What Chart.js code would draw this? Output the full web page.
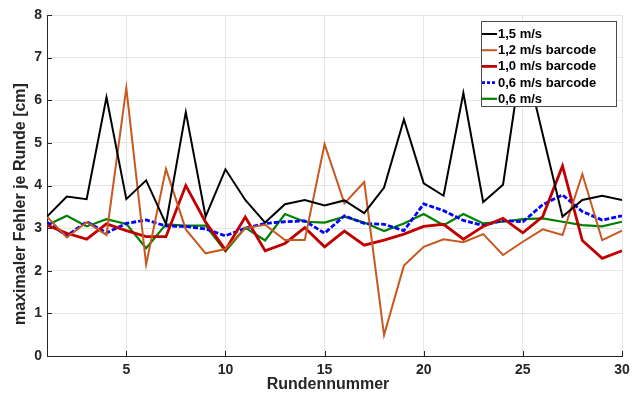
<!DOCTYPE html>
<html>
<head>
<meta charset="utf-8">
<script src="https://cdn.jsdelivr.net/npm/chart.js@4/dist/chart.umd.min.js"></script>
<style>
  html, body { margin: 0; padding: 0; background: #fff; }
  #wrap { width: 638px; height: 396px; position: relative; }
</style>
</head>
<body>
<div id="wrap"><canvas id="chart"></canvas></div>
<script>
const rounds = [1, 2, 3, 4, 5, 6, 7, 8, 9, 10, 11, 12, 13, 14, 15, 16, 17, 18, 19, 20, 21, 22, 23, 24, 25, 26, 27, 28, 29, 30];
const xTicks = [5, 10, 15, 20, 25, 30];
const yTicks = [0, 1, 2, 3, 4, 5, 6, 7, 8];

const v15 = [3.27, 3.74, 3.68, 6.07, 3.68, 4.12, 3.10, 5.72, 3.27, 4.38, 3.66, 3.13, 3.56, 3.66, 3.53, 3.65, 3.35, 3.95, 5.55, 4.05, 3.76, 6.17, 3.61, 4.02, 7.15, 5.20, 3.27, 3.66, 3.76, 3.66];
const v12barcode = [3.27, 2.78, 3.14, 2.84, 6.29, 2.15, 4.39, 2.97, 2.41, 2.51, 3.00, 3.08, 2.72, 2.72, 4.97, 3.58, 4.08, 0.49, 2.12, 2.56, 2.74, 2.67, 2.86, 2.37, 2.68, 2.97, 2.84, 4.27, 2.72, 2.94];
const v10barcode = [3.07, 2.88, 2.74, 3.10, 2.94, 2.80, 2.80, 4.00, 3.14, 2.49, 3.26, 2.47, 2.64, 3.01, 2.56, 2.93, 2.60, 2.72, 2.86, 3.04, 3.09, 2.74, 3.04, 3.23, 2.89, 3.27, 4.46, 2.71, 2.29, 2.47];
const v06barcode = [3.14, 2.82, 3.15, 2.89, 3.11, 3.19, 3.05, 3.04, 2.98, 2.82, 3.00, 3.11, 3.15, 3.17, 2.88, 3.29, 3.11, 3.09, 2.94, 3.57, 3.41, 3.18, 3.06, 3.18, 3.15, 3.55, 3.78, 3.39, 3.19, 3.29];
const v06 = [3.07, 3.29, 3.04, 3.21, 3.10, 2.53, 3.09, 3.06, 3.06, 2.46, 3.01, 2.71, 3.33, 3.15, 3.13, 3.27, 3.13, 2.93, 3.11, 3.33, 3.07, 3.33, 3.11, 3.15, 3.21, 3.23, 3.15, 3.07, 3.04, 3.15];

const seriesNames = ['1,5 m/s', '1,2 m/s barcode', '1,0 m/s barcode', '0,6 m/s barcode', '0,6 m/s'];
const xTitle = 'Rundennummer';
const yTitle = 'maximaler Fehler je Runde [cm]';

const axisColor = '#262626';
const gridColor = '#e5e5e5';
const fontFamily = '"Liberation Sans", Arial, sans-serif';

function toPoints(values) {
    return values.map((v, i) => ({ x: rounds[i], y: v }));
}

function lineSet(label, values, color, width, dash) {
    return {
        label: label,
        data: toPoints(values),
        borderColor: color,
        backgroundColor: color,
        borderWidth: width,
        borderDash: dash || [],
        pointRadius: 0,
        tension: 0,
        fill: false
    };
}

// draws inward tick marks, axis titles and the boxed legend
const matlabLook = {
    id: 'matlabLook',
    afterDraw(chart) {
        const ctx = chart.ctx;
        const area = chart.chartArea;
        const xs = chart.scales.x;
        const ys = chart.scales.y;

        ctx.save();
        ctx.strokeStyle = axisColor;
        ctx.lineWidth = 1;
        ctx.beginPath();
        xTicks.forEach(t => {
            const px = Math.round(xs.getPixelForValue(t)) + 0.5;
            ctx.moveTo(px, area.bottom);
            ctx.lineTo(px, area.bottom - 5);
        });
        yTicks.forEach(t => {
            const py = Math.round(ys.getPixelForValue(t)) + 0.5;
            ctx.moveTo(area.left, py);
            ctx.lineTo(area.left + 5, py);
        });
        ctx.stroke();

        ctx.fillStyle = axisColor;
        ctx.font = 'bold 16px ' + fontFamily;
        ctx.textAlign = 'center';
        ctx.textBaseline = 'middle';
        ctx.fillText(xTitle, 328, 385);
        ctx.translate(21, 204);
        ctx.rotate(-Math.PI / 2);
        ctx.fillText(yTitle, 0, 0);
        ctx.restore();

        // legend box
        const box = { left: 481, top: 21, right: 617, bottom: 107 };
        ctx.save();
        ctx.fillStyle = '#ffffff';
        ctx.fillRect(box.left, box.top, box.right - box.left, box.bottom - box.top);
        ctx.strokeStyle = '#4d4d4d';
        ctx.lineWidth = 1;
        ctx.strokeRect(box.left + 0.5, box.top + 0.5, box.right - box.left - 1, box.bottom - box.top - 1);
        ctx.font = 'bold 13px ' + fontFamily;
        ctx.textAlign = 'left';
        ctx.textBaseline = 'middle';
        chart.data.datasets.forEach((ds, i) => {
            const cy = 34 + i * 16.2;
            ctx.strokeStyle = ds.borderColor;
            ctx.lineWidth = ds.borderWidth;
            ctx.setLineDash(ds.borderDash.length ? [3, 2] : []);
            ctx.beginPath();
            ctx.moveTo(482, cy);
            ctx.lineTo(497, cy);
            ctx.stroke();
            ctx.setLineDash([]);
            ctx.fillStyle = '#000000';
            ctx.fillText(ds.label, 498, cy + 0.5);
        });
        ctx.restore();
    }
};

const ctx = document.getElementById('chart').getContext('2d');
new Chart(ctx, {
    type: 'line',
    data: {
        datasets: [
            lineSet(seriesNames[0], v15, '#000000', 2),
            lineSet(seriesNames[1], v12barcode, '#c8581f', 2),
            lineSet(seriesNames[2], v10barcode, '#c00000', 2.8),
            lineSet(seriesNames[3], v06barcode, '#0000ff', 2.8, [5, 2]),
            lineSet(seriesNames[4], v06, '#008000', 2.2)
        ]
    },
    options: {
        responsive: true,
        maintainAspectRatio: false,
        animation: false,
        layout: { padding: { top: 15, right: 16, left: 0, bottom: 0 } },
        plugins: {
            legend: { display: false },
            tooltip: { enabled: false }
        },
        scales: {
            x: {
                type: 'linear',
                min: 1,
                max: 30,
                afterBuildTicks: scale => {
                    scale.ticks = xTicks.map(v => ({ value: v }));
                },
                afterFit: scale => { scale.height = 40; },
                grid: { color: gridColor, drawTicks: false },
                border: { color: axisColor, width: 1 },
                ticks: {
                    color: axisColor,
                    padding: 6,
                    maxRotation: 0,
                    font: { family: fontFamily, size: 14, weight: 'bold' }
                }
            },
            y: {
                min: 0,
                max: 8,
                afterBuildTicks: scale => {
                    scale.ticks = yTicks.map(v => ({ value: v }));
                },
                afterFit: scale => { scale.width = 47; },
                grid: { color: gridColor, drawTicks: false },
                border: { color: axisColor, width: 1 },
                ticks: {
                    color: axisColor,
                    padding: 5,
                    font: { family: fontFamily, size: 14, weight: 'bold' }
                }
            }
        }
    },
    plugins: [matlabLook]
});
</script>
</body>
</html>
